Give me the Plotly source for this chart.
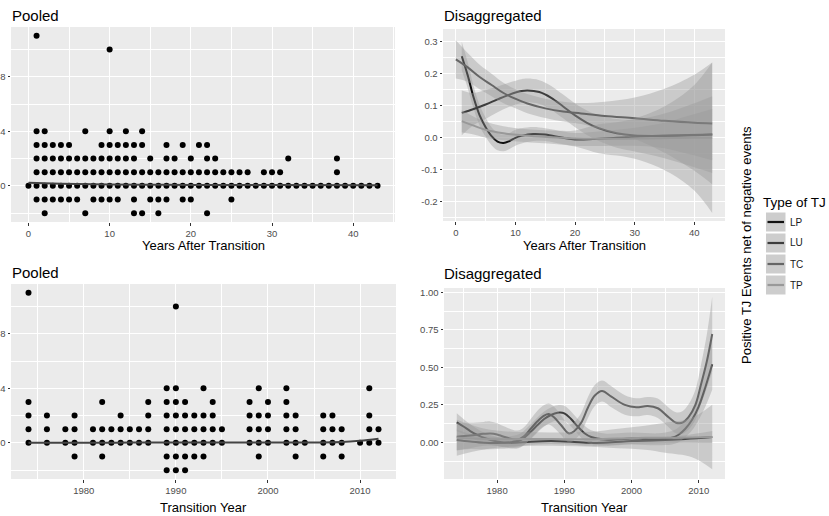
import plotly.graph_objects as go

W, H = 829, 516
FONT = "Liberation Sans, Arial, sans-serif"

# ---------------- data: pooled, years after transition (value -> years) -------------
TL_ROWS = {
    11: [1],
    10: [10],
    4: [1, 2, 7, 10, 12, 14],
    3: [1, 2, 3, 4, 5, 9, 10, 11, 12, 13, 14, 17, 19, 21, 22],
    2: [1, 2, 3, 4, 5, 6, 7, 8, 9, 10, 11, 12, 13, 15, 17, 18, 20, 22, 23, 32, 38],
    1: [1, 2, 3, 4, 5, 6, 7, 8, 9, 10, 11, 12, 13, 14, 15, 16, 17, 18, 19, 20, 21, 22,
        23, 24, 25, 26, 27, 29, 30, 31, 38],
    0: [0, 1, 2, 3, 4, 5, 6, 7, 8, 9, 10, 11, 12, 13, 14, 15, 16, 17, 18, 19, 20, 21, 22,
        23, 24, 25, 26, 27, 28, 29, 30, 31, 32, 33, 34, 35, 36, 37, 38, 39, 40, 41, 42, 43],
    -1: [1, 2, 3, 4, 5, 6, 8, 9, 10, 11, 13, 15, 16, 17, 19, 20, 25],
    -2: [2, 7, 13, 14, 16, 22],
}
TL_FIT_X = [0, 3, 6, 10, 15, 20, 30, 43]
TL_FIT_Y = [0.22, 0.17, 0.13, 0.10, 0.08, 0.07, 0.06, 0.05]

# ---------------- data: pooled, transition year (year -> values) -------------------
BL_COLS = {
    1974: [11, 3, 2, 1, 0], 1976: [2, 1, 0], 1978: [1, 0], 1979: [2, 1, 0, -1],
    1981: [1, 0], 1982: [3, 1, 0, -1], 1983: [1, 0], 1984: [2, 1, 0], 1985: [1, 0],
    1986: [1, 0], 1987: [3, 2, 1, 0], 1989: [4, 3, 2, 1, 0, -1, -2],
    1990: [10, 4, 3, 2, 1, 0, -1, -2], 1991: [3, 2, 1, 0, -1, -2], 1992: [2, 1, 0, -1],
    1993: [4, 2, 1, 0, -1], 1994: [3, 2, 1, 0], 1995: [1, 0], 1998: [3, 2, 1, 0],
    1999: [4, 2, 1, 0, -1], 2000: [3, 2, 1, 0], 2002: [4, 3, 2, 1, 0], 2003: [2, 1, 0, -1],
    2004: [0], 2006: [2, 1, 0, -1], 2007: [2, 1, 0], 2008: [1, 0, -1], 2010: [0],
    2011: [4, 2, 1, 0], 2012: [1, 0],
}
BL_FIT_X = [1974, 1980, 1985, 1990, 1995, 2000, 2005, 2008, 2010, 2012]
BL_FIT_Y = [0.0, 0.01, 0.02, 0.03, 0.03, 0.03, 0.03, 0.06, 0.15, 0.30]

# ---------------- data: disaggregated, years after transition ----------------------
TYPES = ["LP", "LU", "TC", "TP"]
TYPE_COLORS = ["#111111", "#3d3d3d", "#666666", "#999999"]

TR_LP_X = [1, 2, 3, 4, 5, 6, 7, 8, 9, 10, 11, 13, 15, 18, 20, 23, 27, 31, 35, 39, 43]
TR_LP_Y = [0.255, 0.195, 0.125, 0.07, 0.033, 0.005, -0.012, -0.016, -0.01, 0.0, 0.006,
           0.012, 0.01, 0.0, -0.005, -0.004, 0.0, 0.004, 0.007, 0.009, 0.01]
TR_LP_HW = [0.045, 0.04, 0.035, 0.032, 0.03, 0.028, 0.027, 0.026, 0.025, 0.025, 0.024,
            0.022, 0.02, 0.02, 0.02, 0.022, 0.025, 0.03, 0.04, 0.06, 0.08]

TR_LU_X = [1, 3, 5, 7, 9, 11, 12, 14, 16, 18, 20, 22, 24, 27, 30, 35, 40, 43]
TR_LU_Y = [0.078, 0.09, 0.104, 0.12, 0.135, 0.146, 0.148, 0.143, 0.125, 0.098, 0.07,
           0.047, 0.03, 0.014, 0.007, 0.006, 0.008, 0.01]
TR_LU_HW = [0.07, 0.05, 0.045, 0.04, 0.038, 0.037, 0.037, 0.037, 0.037, 0.037, 0.037,
            0.038, 0.04, 0.045, 0.05, 0.07, 0.1, 0.12]

TR_TC_X = [0, 2, 4, 6, 8, 10, 12, 15, 18, 21, 25, 30, 35, 40, 43]
TR_TC_Y = [0.245, 0.22, 0.19, 0.165, 0.14, 0.122, 0.107, 0.092, 0.082, 0.076, 0.068,
           0.061, 0.053, 0.047, 0.045]
TR_TC_HW = [0.06, 0.045, 0.038, 0.035, 0.032, 0.03, 0.03, 0.03, 0.031, 0.033, 0.045,
            0.065, 0.1, 0.15, 0.19]

TR_TP_X = [1, 3, 5, 8, 11, 14, 17, 20, 24, 28, 32, 36, 40, 43]
TR_TP_Y = [0.052, 0.038, 0.025, 0.014, 0.008, 0.004, 0.001, -0.002, -0.003, -0.003,
           -0.002, -0.001, 0.0, 0.0]
TR_TP_HW = [0.035, 0.028, 0.025, 0.022, 0.02, 0.02, 0.021, 0.025, 0.045, 0.055, 0.075,
            0.11, 0.165, 0.235]

# ---------------- data: disaggregated, transition year -----------------------------
BR_LP_X = [1974, 1975, 1976, 1977, 1978, 1980, 1982, 1985, 1988, 1991, 1994, 1997, 2000,
           2004, 2008, 2012]
BR_LP_Y = [0.133, 0.105, 0.075, 0.05, 0.03, 0.005, -0.004, 0.004, 0.008, 0.004, -0.004,
           0.0, 0.008, 0.013, 0.022, 0.035]
BR_LP_HW = [0.06, 0.05, 0.045, 0.04, 0.035, 0.03, 0.025, 0.02, 0.02, 0.02, 0.02, 0.02,
            0.02, 0.02, 0.025, 0.04]

BR_LU_X = [1974, 1976, 1978, 1980, 1982, 1983.5, 1985, 1986, 1987, 1988, 1989, 1990, 1991,
           1992, 1993, 1994, 1996, 1998, 2000, 2002, 2004, 2006, 2007, 2008, 2009, 2010,
           2011, 2012]
BR_LU_Y = [0.015, 0.005, -0.003, -0.005, 0.0, 0.015, 0.07, 0.115, 0.155, 0.182, 0.197,
           0.193, 0.155, 0.105, 0.06, 0.035, 0.018, 0.02, 0.025, 0.022, 0.02, 0.03, 0.05,
           0.09, 0.15, 0.24, 0.37, 0.52]
BR_LU_HW = [0.07, 0.05, 0.045, 0.04, 0.04, 0.045, 0.05, 0.05, 0.05, 0.05, 0.05, 0.05,
            0.05, 0.05, 0.05, 0.045, 0.04, 0.04, 0.04, 0.04, 0.04, 0.045, 0.05, 0.055,
            0.07, 0.09, 0.13, 0.17]

BR_TC_X = [1974, 1976, 1978, 1979, 1980, 1981, 1983, 1984, 1985, 1986, 1987, 1987.7,
           1988.5, 1989.5, 1990.7, 1991.5, 1992.5, 1993.5, 1994.5, 1995.6, 1997, 1999,
           2000.7, 2002.4, 2003.9, 2005.4, 2006.6, 2007.5, 2008.5, 2009.5, 2010.3, 2011.2,
           2012]
BR_TC_Y = [0.037, 0.045, 0.056, 0.059, 0.052, 0.037, 0.018, 0.04, 0.09, 0.14, 0.178,
           0.188, 0.165, 0.115, 0.058, 0.075, 0.13, 0.23, 0.31, 0.342, 0.304, 0.249,
           0.233, 0.242, 0.227, 0.171, 0.13, 0.13, 0.17, 0.25, 0.38, 0.54, 0.722]
BR_TC_HW = [0.09, 0.085, 0.08, 0.08, 0.075, 0.07, 0.06, 0.06, 0.065, 0.07, 0.07, 0.07,
            0.07, 0.065, 0.06, 0.06, 0.065, 0.07, 0.07, 0.07, 0.07, 0.065, 0.06, 0.06,
            0.065, 0.065, 0.07, 0.075, 0.085, 0.1, 0.13, 0.18, 0.25]

BR_TP_X = [1974, 1978, 1982, 1986, 1990, 1994, 1998, 2002, 2005, 2009, 2012]
BR_TP_Y = [0.03, 0.022, 0.02, 0.022, 0.02, 0.02, 0.025, 0.03, 0.03, 0.032, 0.035]
BR_TP_HW = [0.12, 0.07, 0.05, 0.045, 0.045, 0.05, 0.065, 0.08, 0.1, 0.132, 0.215]

TR_SERIES = [(TR_LP_X, TR_LP_Y, TR_LP_HW), (TR_LU_X, TR_LU_Y, TR_LU_HW),
             (TR_TC_X, TR_TC_Y, TR_TC_HW), (TR_TP_X, TR_TP_Y, TR_TP_HW)]
BR_SERIES = [(BR_LP_X, BR_LP_Y, BR_LP_HW), (BR_LU_X, BR_LU_Y, BR_LU_HW),
             (BR_TC_X, BR_TC_Y, BR_TC_HW), (BR_TP_X, BR_TP_Y, BR_TP_HW)]

TR_YTICKS = [-0.2, -0.1, 0.0, 0.1, 0.2, 0.3]
TR_YTEXT = ["-0.2", "-0.1", "0.0", "0.1", "0.2", "0.3"]
BR_YTICKS = [0.0, 0.25, 0.5, 0.75, 1.0]
BR_YTEXT = ["0.00", "0.25", "0.50", "0.75", "1.00"]

# ---------------- figure -------------------------------------------------------------
def px_x(p):
    return p / W


def px_y(p):
    return 1 - p / H


fig = go.Figure()

RIB = "rgba(153,153,153,0.4)"

# pooled panels
tl_x, tl_y = [], []
for v, xs in TL_ROWS.items():
    for xv in xs:
        tl_x.append(xv)
        tl_y.append(v)
fig.add_trace(go.Scatter(x=tl_x, y=tl_y, mode="markers", xaxis="x", yaxis="y",
                         marker=dict(color="black", size=6), showlegend=False))
fig.add_trace(go.Scatter(x=TL_FIT_X, y=TL_FIT_Y, mode="lines", xaxis="x", yaxis="y",
                         line=dict(color="#444444", width=2, shape="spline"),
                         showlegend=False))

bl_x, bl_y = [], []
for yr, vals in BL_COLS.items():
    for v in vals:
        bl_x.append(yr)
        bl_y.append(v)
fig.add_trace(go.Scatter(x=bl_x, y=bl_y, mode="markers", xaxis="x3", yaxis="y3",
                         marker=dict(color="black", size=6), showlegend=False))
fig.add_trace(go.Scatter(x=BL_FIT_X, y=BL_FIT_Y, mode="lines", xaxis="x3", yaxis="y3",
                         line=dict(color="#444444", width=2, shape="spline"),
                         showlegend=False))


def add_smooth(series, xa, ya):
    for (xs, ys, hw), col in zip(series, TYPE_COLORS):
        lo = [a - b for a, b in zip(ys, hw)]
        hi = [a + b for a, b in zip(ys, hw)]
        fig.add_trace(go.Scatter(x=xs, y=lo, mode="lines", xaxis=xa, yaxis=ya,
                                 line=dict(width=0, shape="spline"), showlegend=False,
                                 hoverinfo="skip"))
        fig.add_trace(go.Scatter(x=xs, y=hi, mode="lines", xaxis=xa, yaxis=ya,
                                 line=dict(width=0, shape="spline"), fill="tonexty",
                                 fillcolor=RIB, showlegend=False, hoverinfo="skip"))
        fig.add_trace(go.Scatter(x=xs, y=ys, mode="lines", xaxis=xa, yaxis=ya,
                                 line=dict(color=col, width=2, shape="spline"),
                                 showlegend=False))


add_smooth(TR_SERIES, "x2", "y2")
add_smooth(BR_SERIES, "x4", "y4")

TICKFONT = dict(family=FONT, size=9.5, color="#4D4D4D")


def axis(domain, rng, **kw):
    d = dict(domain=domain, range=rng, showgrid=True, gridcolor="white", gridwidth=1.2,
             zeroline=False, showline=False, ticks="outside", ticklen=2.5, tickwidth=1,
             tickcolor="#333333", tickfont=TICKFONT, automargin=False, fixedrange=True)
    d.update(kw)
    return d


MINOR = dict(showgrid=True, gridcolor="white", gridwidth=0.6)

fig.update_layout(
    width=W, height=H, margin=dict(l=0, r=0, t=0, b=0),
    paper_bgcolor="white", plot_bgcolor="#EBEBEB", template="none",
    font=dict(family=FONT, color="black"), showlegend=False,
    xaxis=axis([px_x(11), px_x(395)], [-2.15, 45.15], anchor="y", tick0=0, dtick=10,
               minor=dict(MINOR, tick0=0, dtick=5)),
    yaxis=axis([px_y(222), px_y(27)], [-2.65, 11.65], anchor="x", tick0=0, dtick=4,
               minor=dict(MINOR, tick0=0, dtick=2)),
    xaxis2=axis([px_x(443), px_x(725)], [-2.15, 45.15], anchor="y2", tick0=0, dtick=10,
                minor=dict(MINOR, tick0=0, dtick=5)),
    yaxis2=axis([px_y(221), px_y(29)], [-0.26, 0.34], anchor="x2", tickmode="array",
                tickvals=TR_YTICKS, ticktext=TR_YTEXT,
                minor=dict(MINOR, tick0=0.05, dtick=0.1)),
    xaxis3=axis([px_x(11), px_x(396)], [1972.1, 2013.9], anchor="y3", tick0=1980,
                dtick=10, minor=dict(MINOR, tick0=1975, dtick=5)),
    yaxis3=axis([px_y(479), px_y(284)], [-2.65, 11.65], anchor="x3", tick0=0, dtick=4,
                minor=dict(MINOR, tick0=0, dtick=2)),
    xaxis4=axis([px_x(444), px_x(725)], [1972.1, 2013.9], anchor="y4", tick0=1980,
                dtick=10, minor=dict(MINOR, tick0=1975, dtick=5)),
    yaxis4=axis([px_y(479), px_y(288)], [-0.245, 1.029], anchor="x4", tickmode="array",
                tickvals=BR_YTICKS, ticktext=BR_YTEXT,
                minor=dict(MINOR, tick0=0.125, dtick=0.25)),
)

ann = []


def text(s, x, y, size, xanchor="left", color="black", angle=0):
    ann.append(dict(text=s, x=px_x(x), y=px_y(y), xref="paper", yref="paper",
                    xanchor=xanchor, yanchor="middle", showarrow=False, textangle=angle,
                    font=dict(family=FONT, size=size, color=color)))


text("Pooled", 10, 15, 15)
text("Disaggregated", 442, 15, 15)
text("Pooled", 10, 272, 15)
text("Disaggregated", 442, 273, 15)
text("Years After Transition", 203, 245.5, 13, xanchor="center")
text("Years After Transition", 584, 245.5, 13, xanchor="center")
text("Transition Year", 203.5, 507, 13, xanchor="center")
text("Transition Year", 584.5, 507, 13, xanchor="center")
text("Positive TJ Events net of negative events", 747, 245, 13, xanchor="center",
     angle=-90)
text("Type of TJ", 761, 202, 13.5)

shapes = []
ROW_C = [222, 243, 264, 285]
for name, col, cy in zip(TYPES, TYPE_COLORS, ROW_C):
    shapes.append(dict(type="rect", xref="paper", yref="paper", x0=px_x(765.5),
                       x1=px_x(786), y0=px_y(cy + 10), y1=px_y(cy - 10),
                       fillcolor="#CDCDCD", line=dict(color="white", width=1),
                       layer="above"))
    shapes.append(dict(type="line", xref="paper", yref="paper", x0=px_x(767.5),
                       x1=px_x(784), y0=px_y(cy), y1=px_y(cy),
                       line=dict(color=col, width=2.2), layer="above"))
    text(name, 788, cy, 10, color="#1a1a1a")

fig.update_layout(annotations=ann, shapes=shapes)

fig.write_html("out.html")
